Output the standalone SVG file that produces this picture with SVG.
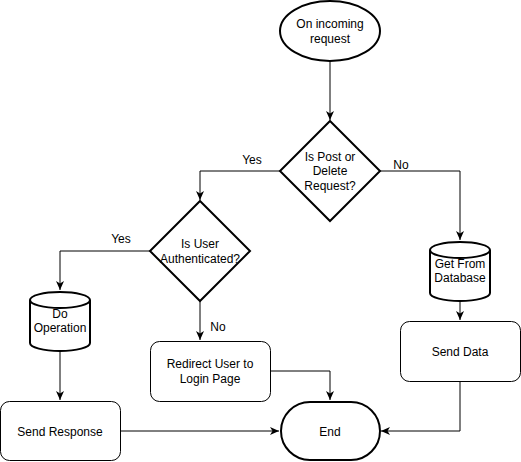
<svg xmlns="http://www.w3.org/2000/svg" width="521" height="462" viewBox="0 0 521 462">
  <defs>
    <marker id="arrow" viewBox="0 0 10 8" refX="9" refY="4" markerWidth="10" markerHeight="8" markerUnits="userSpaceOnUse" orient="auto">
      <path d="M0,0 L9,4 L0,8 L2.5,4 Z" fill="#000"/>
    </marker>
  </defs>
  <style>
    .thick { fill: #fff; stroke: #000; stroke-width: 2; }
    .thin { fill: #fff; stroke: #000; stroke-width: 1; }
    .edge { fill: none; stroke: #000; stroke-width: 1; marker-end: url(#arrow); }
    text { font-family: "Liberation Sans", Arial, sans-serif; font-size: 12px; fill: #000; text-anchor: middle; dominant-baseline: central; }
  </style>
  <rect width="521" height="462" fill="#fff"/>

  <!-- connectors -->
  <g id="connectors">
    <path class="edge" d="M330,61 L330,120"/>
    <path class="edge" d="M280,171 L200,171 L200,200"/>
    <path class="edge" d="M380,171 L460,171 L460,240"/>
    <path class="edge" d="M150,251 L60,251 L60,290"/>
    <path class="edge" d="M200,301 L200,340"/>
    <path class="edge" d="M60,351 L60,400"/>
    <path class="edge" d="M460,301 L460,320"/>
    <path class="edge" d="M120,431 L279,431"/>
    <path class="edge" d="M270,371 L330,371 L330,400"/>
    <path class="edge" d="M460,381 L460,431 L381,431"/>
    <text x="252" y="160">Yes</text>
    <text x="401" y="165">No</text>
    <text x="121" y="239">Yes</text>
    <text x="218" y="327">No</text>
  </g>

  <g id="start">
    <ellipse class="thick" cx="330" cy="31" rx="50" ry="30"/>
    <text x="330" y="24">On incoming</text>
    <text x="330" y="39">request</text>
  </g>

  <g id="is-post-or-delete">
    <path class="thick" d="M330,121 L380,171 L330,221 L280,171 Z"/>
    <text x="330" y="157">Is Post or</text>
    <text x="330" y="171">Delete</text>
    <text x="330" y="186">Request?</text>
  </g>

  <g id="is-authenticated">
    <path class="thick" d="M200,201 L250,251 L200,301 L150,251 Z"/>
    <text x="200" y="244">Is User</text>
    <text x="200" y="259">Authenticated?</text>
  </g>

  <!-- cylinders: body, then the front edge of the top cap drawn over the label -->
  <g id="do-operation">
    <path class="thick" d="M30,300 A30,8 0 0 1 90,300 L90,343 A30,8 0 0 1 30,343 Z"/>
    <text x="60" y="314">Do</text>
    <text x="60" y="328">Operation</text>
    <path fill="none" stroke="#000" stroke-width="2" d="M30,300 A30,8 0 0 0 90,300"/>
  </g>

  <g id="get-from-database">
    <path class="thick" d="M430,250 A30,8 0 0 1 490,250 L490,293 A30,8 0 0 1 430,293 Z"/>
    <text x="460" y="264">Get From</text>
    <text x="460" y="278">Database</text>
    <path fill="none" stroke="#000" stroke-width="2" d="M430,250 A30,8 0 0 0 490,250"/>
  </g>

  <g id="redirect-to-login">
    <rect class="thin" x="150.5" y="341.5" width="120" height="60" rx="9"/>
    <text x="210" y="364">Redirect User to</text>
    <text x="210" y="379">Login Page</text>
  </g>

  <g id="send-data">
    <rect class="thin" x="400.5" y="321.5" width="120" height="60" rx="9"/>
    <text x="460" y="352">Send Data</text>
  </g>

  <g id="send-response">
    <rect class="thin" x="0.5" y="401.5" width="120" height="59" rx="9"/>
    <text x="60" y="432">Send Response</text>
  </g>

  <g id="end">
    <rect class="thick" x="281" y="402" width="99" height="58" rx="29"/>
    <text x="330" y="432">End</text>
  </g>
</svg>
